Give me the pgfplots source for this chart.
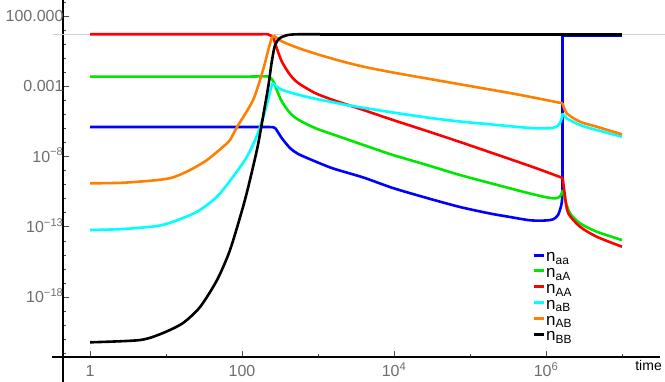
\documentclass[border=0pt]{standalone}
\usepackage{fontspec}
\setmainfont{Liberation Sans}
\usepackage{pgfplots}
\pgfplotsset{compat=1.18}
\definecolor{tickgray}{RGB}{110,110,110}
\definecolor{refgray}{RGB}{208,208,208}
\definecolor{mBlue}{RGB}{0,0,255}
\definecolor{mGreen}{RGB}{0,230,0}
\definecolor{mRed}{RGB}{255,0,0}
\definecolor{mCyan}{RGB}{0,255,255}
\definecolor{mOrange}{RGB}{255,128,0}
\begin{document}
\begin{tikzpicture}
\begin{axis}[
  scale only axis, width=597pt, height=357pt,
  xmode=log, ymode=log,
  xmin=0.441, xmax=3.16e7, ymin=5.4e-23, ymax=1380,
  axis lines*=left,
  axis line style={line width=1.1pt, black},
  x axis line style={shorten <=-10.5pt},
  y axis line style={shorten <=-25pt},
  clip=false,
  tick align=inside,
  major tick length=6pt, minor tick length=3.5pt,
  tick style={black!70, line width=0.6pt},
  xtick={1,100,1e4,1e6},
  xticklabels={1,100,10\textsuperscript{4},10\textsuperscript{6}},
  minor xtick={10,1000,1e5,1e7},
  ytick={100,1e-3,1e-8,1e-13,1e-18},
  yticklabels={100.000,0.001,10\textsuperscript{−8},10\textsuperscript{−13},10\textsuperscript{−18}},
  minor ytick={1e3,10,1,1e-1,1e-2,1e-4,1e-5,1e-6,1e-7,1e-9,1e-10,1e-11,1e-12,
    1e-14,1e-15,1e-16,1e-17,1e-19,1e-20,1e-21,1e-22},
  ticklabel style={font=\fontsize{16}{16}\selectfont, text=tickgray},
  xticklabel style={anchor=base, yshift=-20pt},
  yticklabel style={anchor=base east, xshift=4pt, yshift=-5.7pt},
  xlabel={time},
  xlabel style={at={(rel axis cs:1,0)}, anchor=north east, inner sep=0pt,
    yshift=-3.5pt, xshift=2pt, font=\fontsize{14}{14}\selectfont, text=black},
  legend style={at={(rel axis cs:0.7856,0.298)}, anchor=north west,
    draw=none, fill=none, inner sep=0pt, row sep=-0.6pt, column sep=1pt,
    font=\fontsize{17}{17}\selectfont,
    nodes={inner sep=0pt, text height=11pt, text depth=5.4pt}},
  legend cell align=left,
  legend image code/.code={\draw[#1, line width=3pt] (0pt,4pt) -- (10pt,4pt);},
  every axis plot/.append style={line width=2.6pt, line join=round, tension=0.45},
]
\addplot[refgray, line width=0.8pt, forget plot] coordinates {(0.321,5) (3.7e7,5)};
% n_aa
\addplot[mBlue, smooth] coordinates {
(1,1.26e-6) (6.16,1.26e-6) (37.9,1.26e-6) (127,1.26e-6) (201,1.26e-6)
(234,1.25e-6) (272,1.07e-6) (333,2.07e-7) (428,4.03e-8) (550,1.51e-8)
(913,4.55e-9) (1514,1.52e-9) (2504,6.7e-10) (4150,2.95e-10) (9700,5.7e-11)
(27200,1.11e-11) (73900,2.55e-12) (1.83e5,8.8e-13) (3.07e5,5.4e-13)
(6.15e5,2.9e-13) (9.7e5,2.79e-13) (1.24e6,3.39e-13) (1.44e6,6.9e-13)
(1.59e6,3.5e-12) (1.64e6,1.55e-11) (1.66e6,4.1e-11)};
\addlegendentry{n\textsubscript{aa}}
\addplot[mBlue, forget plot] coordinates {(1.66e6,4.1e-11) (1.66e6,4.1) (1e7,4.1)};
% n_aA
\addplot[mGreen, smooth] coordinates {
(1,4.9e-3) (6.16,4.9e-3) (37.9,4.9e-3) (127,4.9e-3) (220,4.9e-3)
(258,2.25e-3) (286,5.7e-4) (333,8.5e-5) (428,1.25e-5) (550,4.16e-6)
(913,1.07e-6) (1514,3.99e-7) (2504,1.57e-7) (4150,6.07e-8) (9700,1.28e-8)
(27200,2.48e-9) (73900,4.82e-10) (3.07e5,6.2e-11) (6.15e5,2.33e-11)
(9.7e5,1.31e-11) (1.24e6,1.06e-11) (1.44e6,1.15e-11) (1.57e6,1.82e-11)
(1.66e6,4.1e-11)};
\addlegendentry{n\textsubscript{aA}}
\addplot[mGreen, smooth, forget plot] coordinates {
(1.66e6,4.1e-11) (1.78e6,8.0e-12) (2.07e6,9.1e-13) (2.80e6,1.76e-13)
(4.65e6,4.45e-14) (1e7,1.14e-14)};
% n_AA
\addplot[mRed, smooth] coordinates {
(1,5) (6.16,5) (37.9,5) (127,5) (173,5) (220,4.95) (258,2.72) (286,0.527)
(333,0.0597) (428,6.6e-3) (550,1.70e-3) (913,3.31e-4) (1514,1.14e-4)
(2504,4.63e-5) (4150,1.88e-5) (9700,3.96e-6) (27200,6.5e-7) (73900,1.08e-7)
(6.15e5,2.11e-9) (1.66e6,2.95e-10)};
\addlegendentry{n\textsubscript{AA}}
\addplot[mRed, smooth, forget plot] coordinates {
(1.66e6,2.95e-10) (1.78e6,1.38e-11) (1.96e6,9.1e-13) (2.80e6,1.01e-13)
(4.65e6,1.96e-14) (1e7,3.8e-15)};
% n_aB
\addplot[mCyan, smooth] coordinates {
(1,5.9e-14) (2.72,6.9e-14) (7.6,1.13e-13) (12.4,2.29e-13) (25.6,1.18e-12)
(46.9,1.38e-11) (76.2,3.65e-10) (116,9.7e-9) (157,3.0e-7) (201,1.73e-5)
(250,1.70e-3)};
\addlegendentry{n\textsubscript{aB}}
\addplot[mCyan, smooth, forget plot] coordinates {
(250,1.70e-3) (333,5.7e-4) (550,2.5e-4) (913,1.30e-4) (1514,7.6e-5)
(2504,4.41e-5) (4150,2.83e-5) (9700,1.36e-5) (27200,5.97e-6)
(73900,3.10e-6) (1.83e5,1.96e-6) (6.15e5,1.07e-6) (9.7e5,1.02e-6)
(1.24e6,1.10e-6) (1.44e6,1.61e-6) (1.57e6,3.37e-6) (1.66e6,1.19e-5)};
\addplot[mCyan, smooth, forget plot] coordinates {
(1.66e6,1.19e-5) (1.87e6,5.2e-6) (2.80e6,1.75e-6) (4.65e6,7.7e-7) (1e7,2.56e-7)};
% n_AB
\addplot[mOrange, smooth] coordinates {
(1,1.24e-10) (2.72,1.36e-10) (7.6,2.1e-10) (12.4,3.3e-10) (20.7,1.09e-9)
(34.6,5.6e-9) (56.3,4.99e-8) (69.5,1.49e-7) (86,1.26e-6) (140,1.05e-4)
(189,0.0144) (213,0.168) (241,1.96) (260,4.1)};
\addlegendentry{n\textsubscript{AB}}
\addplot[mOrange, smooth, forget plot] coordinates {
(260,4.1) (333,1.58) (550,0.527) (913,0.214) (1514,0.0944) (2504,0.0452)
(4150,0.0235) (9700,9.5e-3) (27200,3.56e-3) (73900,1.38e-3)
(3.07e5,3.59e-4) (6.15e5,1.77e-4) (1.66e6,6.1e-5)};
\addplot[mOrange, smooth, forget plot] coordinates {
(1.66e6,6.1e-5) (1.87e6,1.19e-5) (2.80e6,3.0e-6) (4.65e6,1.32e-6) (1e7,3.8e-7)};
% n_BB
\addplot[black, smooth] coordinates {
(1,6.0e-22) (4.55,8.7e-22) (9.1,2.74e-21) (16.7,1.41e-20) (28,1.94e-19)
(46.9,1.62e-17) (69.5,2.21e-15) (103,2.55e-12) (127,2.1e-10) (162,6.6e-8)
(201,4.6e-5) (223,1.23e-3) (246,0.0532) (272,0.863) (316,2.72) (403,4.45)
(545,5) (1062,5)};
\addlegendentry{n\textsubscript{BB}}
\addplot[black, forget plot] coordinates {(1062,5) (1e7,5)};
\end{axis}
\pgfresetboundingbox
\path[use as bounding box] (-63pt,-25pt) rectangle (602pt,357pt);
\end{tikzpicture}
\end{document}
